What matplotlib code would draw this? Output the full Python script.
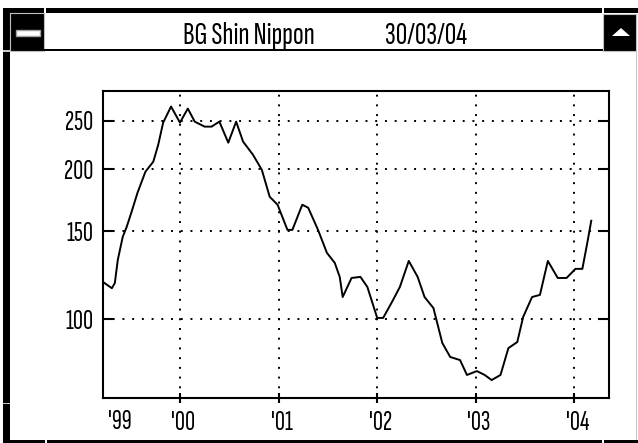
import matplotlib
matplotlib.use("Agg")
import matplotlib.pyplot as plt
from matplotlib.patches import Rectangle, Polygon
from matplotlib.transforms import ScaledTranslation

# price history (decimal year, price)
years = [1999.23, 1999.31, 1999.34, 1999.37, 1999.42, 1999.46, 1999.51, 1999.57,
         1999.65, 1999.73, 1999.78, 1999.83, 1999.91, 2000.00, 2000.08, 2000.15,
         2000.25, 2000.32, 2000.40, 2000.49, 2000.57, 2000.64, 2000.74, 2000.83,
         2000.91, 2000.99, 2001.09, 2001.14, 2001.24, 2001.30, 2001.40, 2001.49,
         2001.57, 2001.62, 2001.65, 2001.74, 2001.83, 2001.90, 2002.00, 2002.06,
         2002.15, 2002.23, 2002.32, 2002.41, 2002.48, 2002.57, 2002.66, 2002.74,
         2002.84, 2002.91, 2003.01, 2003.09, 2003.16, 2003.25, 2003.33, 2003.42,
         2003.48, 2003.57, 2003.65, 2003.73, 2003.83, 2003.92, 2004.01, 2004.08,
         2004.13, 2004.17]
prices = [118.3, 115.3, 118.1, 131.4, 146.2, 153.1, 164.2, 179.3,
          197.6, 207.0, 223.9, 248.0, 267.1, 248.0, 264.6, 249.1,
          243.4, 243.4, 249.1, 226.0, 249.1, 227.1, 213.8, 199.4,
          176.0, 169.6, 151.0, 151.0, 169.6, 167.3, 151.0, 135.8,
          129.6, 121.5, 110.7, 120.9, 121.5, 116.0, 100.5, 100.5,
          108.2, 116.0, 130.8, 121.5, 110.7, 105.2, 89.5, 83.9,
          82.7, 77.2, 78.6, 77.2, 75.4, 77.2, 87.4, 89.9,
          101.0, 110.7, 111.8, 130.8, 120.9, 120.9, 126.1, 126.1,
          142.2, 157.5]

price_ticks = [100, 150, 200, 250]
year_ticks = [2000, 2001, 2002, 2003, 2004]
year_labels = ["'00", "'01", "'02", "'03", "'04"]
first_label = "'99"
title = "BG Shin Nippon"
date_text = "30/03/04"

FONT = ["Sofia Sans Extra Condensed", "DejaVu Sans"]
W, H = 638, 443
fig = plt.figure(figsize=(W / 100, H / 100), dpi=100)

# window chrome, drawn in pixel coordinates (y downwards)
frame = fig.add_axes([0, 0, 1, 1])
frame.set_xlim(0, W)
frame.set_ylim(H, 0)
frame.axis("off")


def box(x0, y0, x1, y1, fc="black", ec="none", lw=0):
    frame.add_patch(Rectangle((x0, y0), x1 - x0, y1 - y0, fc=fc, ec=ec, lw=lw))


box(3, 8, 10, H)                       # left border
box(3, 8, W, 13)                       # top border
box(44, 8, 45.5, 13, fc="white")
box(602, 8, 603.5, 13, fc="white")
box(3, 50, 10, 51.5, fc="#c8c8c8")
box(3, 402.5, 10, 404, fc="#c8c8c8")
box(10, 13, 44, 51, ec="#c0c0c0", lw=0.8)   # minimise button
box(16, 30, 40, 35.5, fc="white", ec="#a0a0a0", lw=1.0)
box(44, 49, 603, 51)                   # title bar bottom line
box(603, 13.5, 636, 51, ec="#c0c0c0", lw=0.8)
frame.add_patch(Polygon([(612, 36), (630, 36), (621, 28)], closed=True, fc="white", ec="none"))
box(635.5, 51, 637, H, fc="#c8c8c8")   # right edge
box(10, 440, W, H)                     # bottom border
box(45, 440, 46.5, H, fc="white")
box(602, 440, 603.5, H, fc="white")

frame.text(249, 36, title, ha="center", va="center", fontsize=23,
           family=FONT, weight="light")
frame.text(426, 36, date_text, ha="center", va="center", fontsize=23,
           family=FONT, weight="light")

# price chart
ax = fig.add_axes([103 / W, 1 - 398 / H, (609 - 103) / W, (398 - 91) / H])
ax.plot(years, prices, color="black", lw=1.4)
ax.set_yscale("log")
ax.set_xlim(1999.22, 2004.35)
ax.set_ylim(69.4, 287)

ax.set_yticks(price_ticks)
ax.set_yticklabels([str(p) for p in price_ticks], family=FONT, fontsize=20, weight="light")
ax.yaxis.set_minor_locator(plt.NullLocator())
ax.tick_params(axis="y", which="major", direction="in", length=8, width=1.5,
               right=True, pad=7)

ax.set_xticks(year_ticks)
ax.set_xticklabels(year_labels, family=FONT, fontsize=20, weight="light")
ax.set_xticks([1999.36], minor=True)
ax.set_xticklabels([first_label], minor=True, family=FONT, fontsize=20, weight="light")
ax.tick_params(axis="x", which="major", direction="inout", length=7, width=1.5, pad=6)
ax.tick_params(axis="x", which="minor", length=0, pad=8.5)

shift = ScaledTranslation(3 / 100, 0, fig.dpi_scale_trans)
for lbl in ax.get_xticklabels() + ax.get_xticklabels(minor=True):
    lbl.set_transform(lbl.get_transform() + shift)

ax.grid(True, which="major", color="black", lw=1.4, linestyle=(0, (1, 4)))
for s in ax.spines.values():
    s.set_linewidth(1.5)

fig.savefig("out.png", dpi=100)
